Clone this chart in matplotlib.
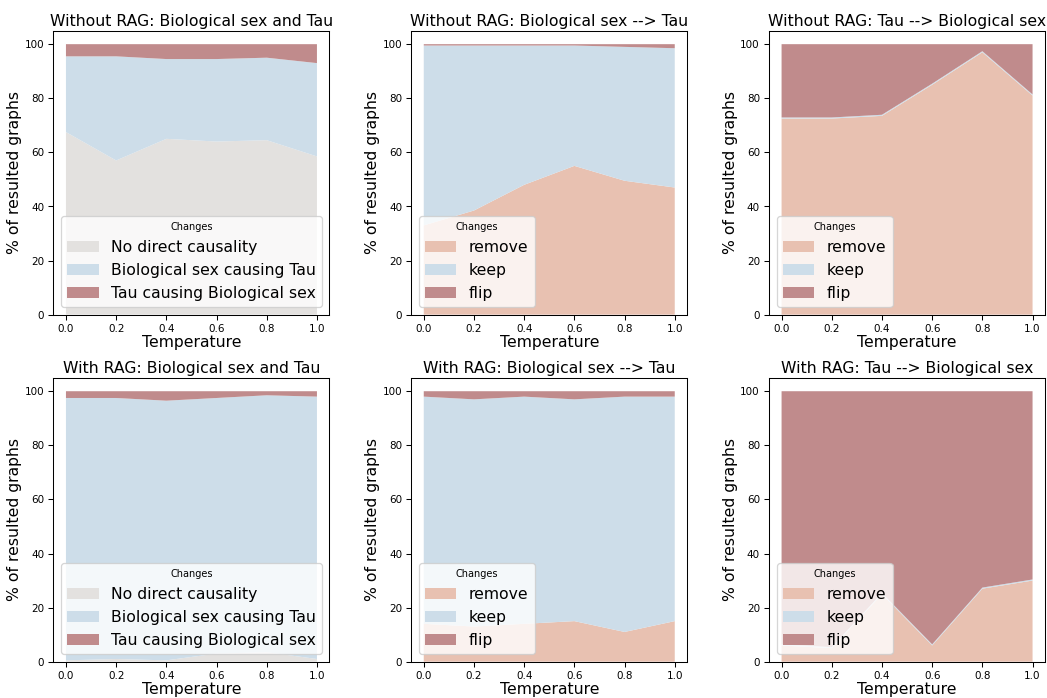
import matplotlib
matplotlib.use('Agg')
from matplotlib import pyplot as plt
import numpy as np

temps = [0.0, 0.2, 0.4, 0.6, 0.8, 1.0]

# Without RAG
norag_both_none = [67.5, 57.0, 65.0, 64.0, 64.5, 58.5]
norag_both_sex_tau = [28.0, 38.5, 29.5, 30.5, 30.5, 34.5]
norag_both_tau_sex = [4.5, 4.5, 5.5, 5.5, 5.0, 7.0]

norag_st_remove = [33.0, 38.5, 48.0, 55.0, 49.5, 47.0]
norag_st_keep = [66.5, 61.0, 51.5, 44.5, 49.5, 51.5]
norag_st_flip = [0.5, 0.5, 0.5, 0.5, 1.0, 1.5]

norag_ts_remove = [72.5, 72.5, 73.5, 85.0, 97.0, 81.0]
norag_ts_keep = [0.4, 0.4, 0.4, 0.4, 0.4, 0.4]
norag_ts_flip = [27.1, 27.1, 26.1, 14.6, 2.6, 18.6]

# With RAG
rag_both_none = [0.5, 1.0, 0.5, 3.0, 3.5, 1.0]
rag_both_sex_tau = [97.0, 96.5, 96.0, 94.5, 95.0, 97.0]
rag_both_tau_sex = [2.5, 2.5, 3.5, 2.5, 1.5, 2.0]

rag_st_remove = [14.0, 13.0, 14.0, 15.0, 11.0, 15.0]
rag_st_keep = [84.0, 84.0, 84.0, 82.0, 87.0, 83.0]
rag_st_flip = [2.0, 3.0, 2.0, 3.0, 2.0, 2.0]

rag_ts_remove = [6.0, 5.0, 25.0, 6.0, 27.0, 30.0]
rag_ts_keep = [0.4, 0.4, 0.4, 0.4, 0.4, 0.4]
rag_ts_flip = [93.6, 94.6, 74.6, 93.6, 72.6, 69.6]

both_labels = ['No direct causality', 'Biological sex causing Tau', 'Tau causing Biological sex']
change_labels = ['remove', 'keep', 'flip']

both_colors = ['#e3e1df', '#cddde9', '#c08b8c']
change_colors = ['#e8c1b1', '#cddde9', '#c08b8c']

panels = [
    ('Without RAG: Biological sex and Tau', [norag_both_none, norag_both_sex_tau, norag_both_tau_sex], both_labels, both_colors),
    ('Without RAG: Biological sex --> Tau', [norag_st_remove, norag_st_keep, norag_st_flip], change_labels, change_colors),
    ('Without RAG: Tau --> Biological sex', [norag_ts_remove, norag_ts_keep, norag_ts_flip], change_labels, change_colors),
    ('With RAG: Biological sex and Tau', [rag_both_none, rag_both_sex_tau, rag_both_tau_sex], both_labels, both_colors),
    ('With RAG: Biological sex --> Tau', [rag_st_remove, rag_st_keep, rag_st_flip], change_labels, change_colors),
    ('With RAG: Tau --> Biological sex', [rag_ts_remove, rag_ts_keep, rag_ts_flip], change_labels, change_colors),
]

fig, axes = plt.subplots(2, 3, figsize=(11.2, 7.466), dpi=93.5)

for ax, (title, series, labels, colors) in zip(axes.flat, panels):
    ax.stackplot(temps, *series, labels=labels, colors=colors)
    ax.set_title(title, fontsize=12, pad=4)
    ax.set_xlabel('Temperature', fontsize=12, labelpad=1)
    ax.set_ylabel('% of resulted graphs', fontsize=12, labelpad=2)
    ax.tick_params(labelsize=8)
    ax.legend(loc='lower left', title='Changes', fontsize=12, title_fontsize=7.5)

fig.subplots_adjust(left=0.051, right=0.998, wspace=0.296, top=0.956, bottom=0.052, hspace=0.222)
plt.savefig('out.png')
